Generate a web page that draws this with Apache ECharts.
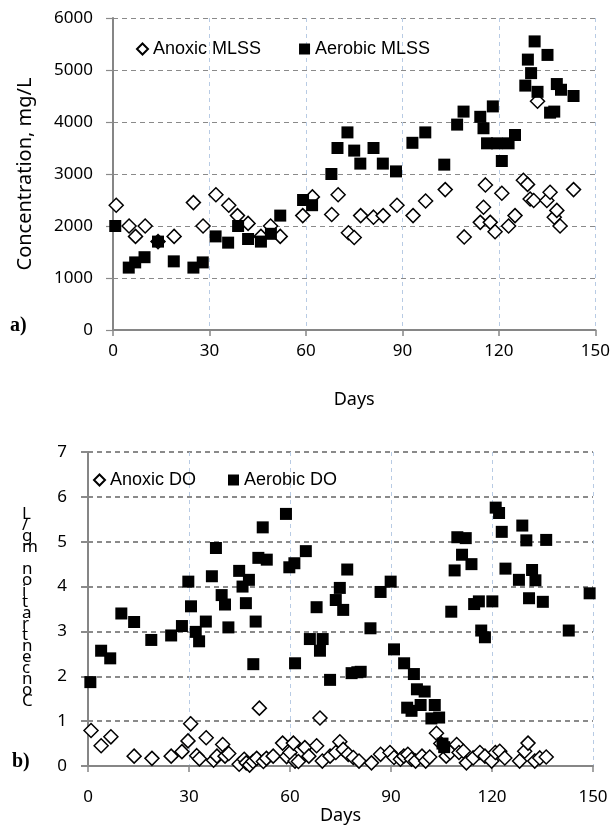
<!DOCTYPE html>
<html>
<head>
<meta charset="utf-8">
<script src="https://cdn.jsdelivr.net/npm/echarts@6/dist/echarts.min.js"></script>
<style>
html, body { margin: 0; padding: 0; background: #fff; }
#chart { width: 613px; height: 829px; }
</style>
</head>
<body>
<div id="chart"></div>
<script>
// a) MLSS, mg/L  -> [day, value]
const anoxicMLSS = [
  [1, 2400], [5, 2000], [7, 1800], [10, 2000], [14, 1700], [19, 1800], [25, 2450], [28, 2000],
  [32, 2600], [36, 2400], [38.7, 2200], [42, 2050], [46, 1800], [49, 2000], [52, 1800], [59, 2200],
  [62, 2560], [68, 2220], [70, 2600], [73.2, 1870], [75, 1780], [77, 2200], [81, 2170], [84, 2200],
  [88.3, 2400], [93.3, 2200], [97.2, 2480], [103.3, 2700], [109.2, 1790], [114.2, 2070], [115.2, 2360],
  [115.8, 2790], [117.3, 2070], [118.8, 1890], [120.9, 2630], [123, 2000], [125, 2200], [127.6, 2880],
  [128.9, 2800], [129.7, 2520], [130.8, 2490], [132, 4400], [134.9, 2490], [135.9, 2650], [137.2, 2170],
  [138, 2300], [139, 2000], [143.2, 2700]
];
const aerobicMLSS = [
  [0.7, 2000], [4.9, 1200], [6.9, 1300], [9.8, 1400], [14, 1700], [18.9, 1320], [25, 1200], [27.9, 1300],
  [31.9, 1800], [35.8, 1680], [38.9, 2000], [42, 1750], [46, 1700], [49.1, 1850], [52, 2200], [59.1, 2500],
  [61.9, 2400], [67.9, 3000], [69.8, 3500], [72.9, 3800], [75, 3450], [76.9, 3200], [81, 3500], [83.9, 3200],
  [88, 3050], [93.1, 3600], [97.1, 3800], [103, 3180], [107, 3950], [109, 4200], [114.2, 4100], [115.2, 3880],
  [116.3, 3590], [118.1, 4300], [119.4, 3590], [120.9, 3250], [123, 3590], [125, 3750], [128.2, 4700],
  [129, 5200], [130, 4940], [131.1, 5550], [132, 4580], [135.1, 5290], [135.9, 4180], [137.2, 4200],
  [138, 4730], [139.3, 4620], [143.2, 4500]
];
// b) DO, mg/L
const anoxicDO = [
  [0.9, 0.79], [3.9, 0.45], [6.8, 0.65], [13.7, 0.22], [19, 0.17], [24.7, 0.22], [27.9, 0.32], [29.7, 0.56],
  [30.5, 0.94], [32.3, 0.23], [33.1, 0.16], [35.1, 0.63], [37.3, 0.13], [38.3, 0.22], [40, 0.48], [40.7, 0.22],
  [41.8, 0.28], [44.9, 0.04], [46.4, 0.15], [47, 0.07], [48, 0.02], [49, 0.1], [50.1, 0.17], [50.9, 1.29],
  [52.1, 0.1], [53, 0.17], [55, 0.22], [57.8, 0.51], [59, 0.21], [60, 0.3], [61, 0.51], [61.5, 0.11],
  [62.5, 0.1], [64.4, 0.41], [65.6, 0.22], [67.9, 0.45], [68.9, 1.07], [69.6, 0.11], [71.9, 0.22], [73.6, 0.3],
  [74.8, 0.54], [75.8, 0.37], [77.3, 0.26], [78.8, 0.19], [80.5, 0.11], [84.2, 0.07], [86.9, 0.26], [89.7, 0.3],
  [90.9, 0.19], [92.8, 0.15], [93.8, 0.22], [95, 0.26], [96.1, 0.15], [97.3, 0.11], [99.2, 0.22], [100.3, 0.11],
  [101.5, 0.2], [103.5, 0.73], [104.8, 0.5], [106.4, 0.22], [107.6, 0.3], [109.5, 0.48], [110.2, 0.3],
  [111.5, 0.33], [112.4, 0.07], [114.4, 0.18], [116.4, 0.3], [117.9, 0.22], [119.9, 0.11], [121, 0.3],
  [122.3, 0.33], [123.8, 0.18], [128.2, 0.11], [129.7, 0.33], [130.7, 0.51], [132.7, 0.11], [134.2, 0.18],
  [136.1, 0.2]
];
const aerobicDO = [
  [0.7, 1.87], [3.9, 2.57], [6.6, 2.4], [9.9, 3.4], [13.7, 3.21], [18.8, 2.81], [24.7, 2.91], [27.9, 3.12],
  [29.8, 4.11], [30.6, 3.56], [32, 2.99], [33, 2.78], [35, 3.22], [36.8, 4.23], [38, 4.86], [39.7, 3.81],
  [40.7, 3.6], [41.7, 3.09], [44.9, 4.35], [45.9, 4.0], [46.9, 3.63], [47.8, 4.15], [49.1, 2.27], [49.8, 3.22],
  [50.6, 4.64], [51.9, 5.32], [53.1, 4.6], [58.8, 5.62], [59.8, 4.43], [61.3, 4.52], [61.5, 2.29], [64.7, 4.79],
  [65.9, 2.83], [67.9, 3.54], [68.9, 2.57], [69.7, 2.83], [71.9, 1.92], [73.6, 3.7], [74.8, 3.97], [75.8, 3.48],
  [77, 4.38], [78.3, 2.07], [80, 2.09], [81, 2.1], [83.9, 3.07], [86.9, 3.88], [89.9, 4.11], [90.9, 2.6],
  [93.9, 2.29], [94.8, 1.3], [96.1, 1.23], [96.8, 2.05], [97.7, 1.71], [98.8, 1.36], [100, 1.66], [102, 1.06],
  [103, 1.36], [104.3, 1.08], [105.3, 0.5], [105.8, 0.42], [107.9, 3.44], [108.9, 4.36], [109.7, 5.1],
  [111.1, 4.71], [112.2, 5.08], [113.9, 4.5], [114.7, 3.61], [116.1, 3.67], [116.8, 3.02], [117.9, 2.87],
  [120.1, 3.67], [121.1, 5.76], [122.1, 5.64], [122.9, 5.22], [124, 4.4], [128, 4.15], [129, 5.36],
  [130.2, 5.03], [131, 3.74], [131.9, 4.37], [132.9, 4.14], [135.1, 3.66], [136.1, 5.04], [142.8, 3.02],
  [149, 3.85]
];
const dayRange = { min: 0, max: 150, interval: 30 };
const mlssRange = { min: 0, max: 6000, interval: 1000 };
const doRange = { min: 0, max: 7, interval: 1 };
const yLabelStacked = ['L', '/', 'g', 'm', ' ', 'n', 'o', 'i', 't', 'a', 'r', 't', 'n', 'e', 'c', 'n', 'o', 'C'];

const tickFont = { fontFamily: 'Noto Sans', fontSize: 17, color: '#000' };
const axisGrey = '#868686';

function xAxisFor(gridIndex, margin, nameGap) {
  return {
    type: 'value', gridIndex: gridIndex, ...dayRange,
    name: 'Days', nameLocation: 'middle', nameGap: nameGap,
    nameTextStyle: { fontFamily: 'Noto Sans', fontSize: 18, color: '#000' },
    axisLine: { lineStyle: { color: axisGrey, width: 2 } },
    axisTick: { show: true, inside: false, length: 6, lineStyle: { color: axisGrey, width: 1.5 } },
    axisLabel: { ...tickFont, margin: margin },
    splitLine: { show: true, lineStyle: { color: '#b8cbe4', type: [4, 4], width: 1 } }
  };
}
function yAxisFor(gridIndex, range, name, margin, hWidth) {
  return {
    type: 'value', gridIndex: gridIndex, ...range,
    name: name, nameLocation: 'middle', nameGap: 78,
    nameTextStyle: { fontFamily: 'Noto Sans', fontSize: 20, color: '#000' },
    axisLine: { show: true, lineStyle: { color: axisGrey, width: 2 } },
    axisTick: { show: true, length: 7, lineStyle: { color: '#8a8a8a', width: hWidth } },
    axisLabel: { ...tickFont, margin: margin, formatter: v => String(v) },
    splitLine: { show: true, lineStyle: { color: '#8a8a8a', type: [5, 4], width: hWidth } }
  };
}

const anoxicStyle = { color: '#fff', borderColor: '#000', borderWidth: 1.5, opacity: 1 };
const aerobicStyle = { color: '#000', opacity: 1 };
const legendText = { fontFamily: 'Liberation Sans', fontSize: 18, color: '#000' };

const chart = echarts.init(document.getElementById('chart'));
chart.setOption({
  animation: false,
  backgroundColor: '#fff',
  grid: [
    { left: 113, top: 18, width: 483, height: 312 },
    { left: 88, top: 452, width: 505, height: 314 }
  ],
  legend: [
    {
      left: 131, top: 35, itemWidth: 11, itemHeight: 11, itemGap: 38, textStyle: legendText,
      data: [{ name: 'Anoxic MLSS', icon: 'diamond' }, { name: 'Aerobic MLSS', icon: 'rect' }]
    },
    {
      left: 88, top: 466, itemWidth: 11, itemHeight: 11, itemGap: 32, textStyle: legendText,
      data: [{ name: 'Anoxic DO', icon: 'diamond' }, { name: 'Aerobic DO', icon: 'rect' }]
    }
  ],
  xAxis: [xAxisFor(0, 13, 61), xAxisFor(1, 23, 41)],
  yAxis: [yAxisFor(0, mlssRange, 'Concentration, mg/L', 20, 1.2), yAxisFor(1, doRange, '', 21, 2)],
  series: [
    { name: 'Anoxic MLSS', type: 'scatter', xAxisIndex: 0, yAxisIndex: 0, symbol: 'diamond', symbolSize: 14, itemStyle: anoxicStyle, data: anoxicMLSS },
    { name: 'Aerobic MLSS', type: 'scatter', xAxisIndex: 0, yAxisIndex: 0, symbol: 'rect', symbolSize: 12, itemStyle: aerobicStyle, data: aerobicMLSS },
    { name: 'Anoxic DO', type: 'scatter', xAxisIndex: 1, yAxisIndex: 1, symbol: 'diamond', symbolSize: 14, itemStyle: anoxicStyle, data: anoxicDO },
    { name: 'Aerobic DO', type: 'scatter', xAxisIndex: 1, yAxisIndex: 1, symbol: 'rect', symbolSize: 12, itemStyle: aerobicStyle, data: aerobicDO }
  ],
  graphic: [
    { type: 'text', left: 10, top: 316, style: { text: 'a)', font: 'bold 20px "Liberation Serif"', fill: '#000' } },
    { type: 'text', left: 12, top: 752, style: { text: 'b)', font: 'bold 20px "Liberation Serif"', fill: '#000' } },
    { type: 'text', left: 22, top: 506, style: { text: yLabelStacked.join('\n'), font: '17px "Noto Sans"', lineHeight: 11, fill: '#000' } }
  ]
});
</script>
</body>
</html>
